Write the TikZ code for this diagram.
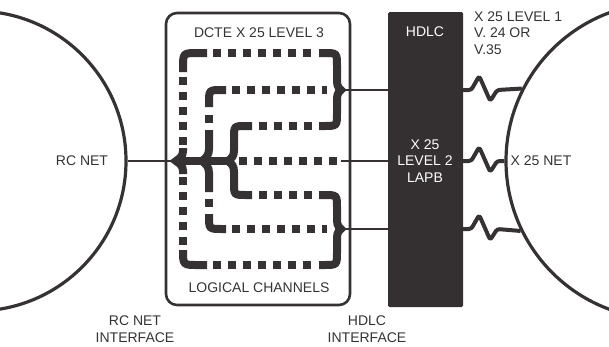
\documentclass[tikz,border=0pt]{standalone}
\usepackage{fontspec}
\setmainfont{Liberation Sans}
\usetikzlibrary{positioning,calc}
\definecolor{ink}{HTML}{363233}
\definecolor{blk}{HTML}{343031}
\tikzset{
  lbl/.style={font=\fontsize{14}{16.5}\selectfont,text=ink,inner sep=0pt,align=center},
  wire/.style={ink,line width=2.6pt},
  chan/.style={ink,line width=8pt,dash pattern=on 8pt off 7pt},
  brc/.style={ink,line width=8pt,miter limit=10},
  zig/.style={ink,line width=4pt,line join=round,rounded corners=2.5pt},
}
\begin{document}
\begin{tikzpicture}[x=1pt,y=-1pt]
  \useasboundingbox (0,0) rectangle (609,346);
  \clip (0,0) rectangle (609,346);
  % NETS
  \node[circle,draw=ink,line width=3.2pt,minimum size=300pt,inner sep=0pt] (rcnet) at (-24,161) {};
  \node[lbl] (rclbl) at (82,161) {RC NET};
  \node[circle,draw=ink,line width=3.2pt,minimum size=316pt,inner sep=0pt] (xnet) at (664,161) {};
  \node[lbl] (xlbl) at (541,161) {X 25 NET};
  % DCTE BOX
  \node[draw=ink,line width=2.6pt,rounded corners=11pt,minimum width=184pt,minimum height=292pt] (dcte) at (258,159) {};
  \node[lbl] (dctelbl) at (259,33) {DCTE X 25 LEVEL 3};
  \node[lbl] (chanlbl) at (259,288) {LOGICAL CHANNELS};
  % HDLC BOX
  \node[fill=blk,rounded corners=1.5pt,minimum width=75pt,minimum height=295pt,inner sep=0pt] (hdlc) at (425.5,159.5) {};
  \node[lbl,text=white] (hdlclbl) at (425,32) {HDLC};
  \node[lbl,text=white] (lapb) at (425,161) {X 25\\LEVEL 2\\LAPB};
  \node[lbl,align=left,anchor=west] (phys) at (474,33) {X 25 LEVEL 1\\V. 24 OR\\V.35};
  % interfaces
  \node[lbl] (rcif) at (135,329) {RC NET\\INTERFACE};
  \node[lbl] (hdlcif) at (367,329) {HDLC\\INTERFACE};
  % brace tips
  \coordinate (tipL) at (176,161);
  \coordinate (tipM) at (202,161);
  \coordinate (tipI) at (228,161);
  \coordinate (tipA) at (341,90);
  \coordinate (tipB) at (341,161);
  \coordinate (tipC) at (341,229);
  % LEFT: nested braces
  \draw[brc] (207,53) -- (198,53) .. controls (183,53) .. (183,68) -- (183,72);
  \draw[chan] (183,77) -- (183,145);
  \draw[brc] (183,148) -- (183,151) .. controls (183,156) and (180,158) .. (tipL) .. controls (180,164) and (183,166) .. (183,171) -- (183,174);
  \draw[chan] (183,177) -- (183,245);
  \draw[brc] (183,250) .. controls (183,265) .. (198,265) -- (207,265);
  \draw[brc] (226,90) -- (222,90) .. controls (209,90) .. (209,103) -- (209,107);
  \draw[chan] (209,115) -- (209,123);
  \draw[brc] (209,130) -- (209,149) .. controls (209,155) and (206,158) .. (tipM) .. controls (206,164) and (209,167) .. (209,173) -- (209,192);
  \draw[chan] (209,199) -- (209,207);
  \draw[brc] (209,214) -- (209,216) .. controls (209,229) .. (222,229) -- (226,229);
  \draw[brc] (252,126) -- (246,126) .. controls (234,126) .. (234,138) -- (234,150) .. controls (234,156) and (232,158) .. (tipI) .. controls (232,164) and (234,166) .. (234,172) -- (234,183) .. controls (234,195) .. (246,195) -- (252,195);
  \draw[brc] (tipL) -- (tipI);
  % channels
  \foreach \y in {53,265} \draw[chan] (213,\y) -- (311,\y);
  \foreach \y in {90,229} \draw[chan] (232,\y) -- (327,\y);
  \foreach \y in {126,195} \draw[chan] (259,\y) -- (312,\y);
  \draw[chan] (239,161) -- (343,161);
  % RIGHT: braces
  \foreach \a/\m/\b in {53/90/126,195/229/265}
    \draw[brc] (319,\a) -- (324,\a) .. controls (337,\a) .. (337,\a+13) -- (337,\m-12)
      .. controls (337,\m-6) and (337,\m-3) .. (341,\m) .. controls (337,\m+3) and (337,\m+6) .. (337,\m+12)
      -- (337,\b-13) .. controls (337,\b) .. (324,\b) -- (319,\b);
  % wires
  \draw[wire] (rcnet.east) -- (tipL);
  \foreach \t in {tipA,tipB,tipC}
    \draw[wire] (\t) -- (\t -| hdlc.west);
  \foreach \t/\a in {tipA/153,tipB/180,tipC/206}
    \draw[zig] (\t -| hdlc.east) -- ++(8,0) -- ++(8,-14) -- ++(11,25) -- ++(7,-11) -- (xnet.\a);
\end{tikzpicture}
\end{document}
